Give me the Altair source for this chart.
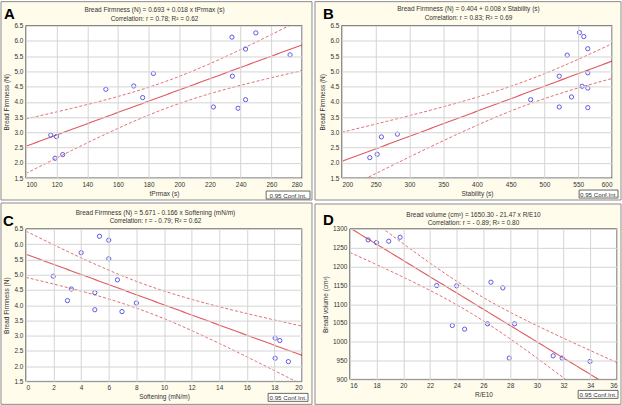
import altair as alt
import numpy as np
import pandas as pd

# ---------------- data ----------------
tprmax_A = [116.2, 119.9, 119.0, 124.0, 152.1, 170.3, 176.1, 183.1, 222.2, 234.3, 234.6, 238.3, 243.2, 243.2, 249.9, 272.2]
firm_A = [2.91, 2.86, 2.15, 2.27, 4.41, 4.52, 4.14, 4.93, 3.83, 6.12, 4.84, 3.79, 5.73, 4.07, 6.26, 5.54]

stability_B = [241.3, 252.2, 258.5, 282.2, 479.5, 521.8, 521.8, 533.6, 540.0, 551.8, 558.2, 555.7, 564.1, 564.1, 564.1, 564.1]
firm_B = [2.17, 2.28, 2.85, 2.94, 4.07, 3.83, 4.84, 5.53, 4.16, 6.27, 6.14, 4.51, 5.74, 4.95, 4.45, 3.81]

softening_C = [1.98, 3.01, 3.29, 4.0, 4.99, 4.99, 5.33, 6.0, 6.0, 6.63, 6.96, 8.0, 18.05, 18.39, 18.05, 19.01]
firm_C = [4.95, 4.15, 4.53, 5.72, 3.85, 4.41, 6.26, 6.13, 5.52, 4.83, 3.79, 4.07, 2.92, 2.84, 2.26, 2.15]

re10_D = [17.37, 17.99, 18.91, 19.76, 22.5, 23.99, 23.67, 24.59, 26.31, 26.56, 27.45, 28.33, 27.93, 31.22, 31.89, 33.98]
volume_D = [1270.8, 1263.7, 1267.3, 1277.9, 1149.6, 1148.7, 1043.4, 1033.6, 1047.8, 1158.4, 1143.4, 1047.8, 956.6, 962.8, 956.6, 947.8]

ticks_x_A = [100, 120, 140, 160, 180, 200, 220, 240, 260, 280]
ticks_x_B = [200, 250, 300, 350, 400, 450, 500, 550, 600]
ticks_x_C = [0, 2, 4, 6, 8, 10, 12, 14, 16, 18, 20]
ticks_x_D = [16, 18, 20, 22, 24, 26, 28, 30, 32, 34, 36]
ticks_y_firm = [1.5, 2.0, 2.5, 3.0, 3.5, 4.0, 4.5, 5.0, 5.5, 6.0, 6.5]
ticks_y_vol = [900, 950, 1000, 1050, 1100, 1150, 1200, 1250, 1300]

titles_A = ["Bread Firmness (N)  = 0.693 + 0.018 x tPrmax (s)", "Correlation: r = 0.78; R² = 0.62"]
titles_B = ["Bread Firmness (N) = 0.404 + 0.008 x Stability (s)", "Correlation: r = 0.83; R² = 0.69"]
titles_C = ["Bread Firmness (N) = 5.671 - 0.166  x Softening (mN/m)", "Correlation: r = - 0.79; R² = 0.62"]
titles_D = ["Bread volume (cm³) = 1650.30 - 21.47  x R/E10", "Correlation: r = - 0.89; R² = 0.80"]

FONT = "Liberation Sans"
PT_COLOR = "#5a5ae0"
LINE_COLOR = "#e05a60"
GRID_COLOR = "#d4d4d4"
T_975_DF14 = 2.145


def fit_band(xs, ys, x0, x1):
    x = np.asarray(xs, float)
    y = np.asarray(ys, float)
    n = len(x)
    b, a = np.polyfit(x, y, 1)
    s = np.sqrt(np.sum((y - (a + b * x)) ** 2) / (n - 2))
    sxx = np.sum((x - x.mean()) ** 2)
    gx = np.linspace(x0, x1, 80)
    yh = a + b * gx
    se = s * np.sqrt(1.0 / n + (gx - x.mean()) ** 2 / sxx)
    return pd.DataFrame({"x": gx, "y": yh, "lo": yh - T_975_DF14 * se, "hi": yh + T_975_DF14 * se})


def one():
    return pd.DataFrame({"k": [0]})


def panel(xs, ys, xdom, ydom, xticks, yticks, xtitle, ytitle, titles, letter,
          w, h, bg, letter_pos, tcx, ty1, ty2, box, yfmt, ytpad, x0=0, cellw=None):
    cellw = cellw or w
    x1 = x0 + w
    xsc = alt.Scale(domain=xdom, nice=False, zero=False, range=[x0, x1])
    ysc = alt.Scale(domain=ydom, nice=False, zero=False)
    xax = alt.Axis(values=xticks, title=xtitle, format="d", zindex=2, grid=True,
                   gridColor=GRID_COLOR, gridWidth=1,
                   labelPadding=3, titlePadding=3, labelOverlap=False, titleX=(x0 + x1) / 2)
    yax = alt.Axis(values=yticks, title=ytitle, format=yfmt, zindex=2, grid=True,
                   gridColor=GRID_COLOR, gridWidth=1,
                   labelPadding=3, titlePadding=ytpad, labelOverlap=False, offset=-x0)
    pts = pd.DataFrame({"x": xs, "y": ys})
    band = fit_band(xs, ys, xdom[0], xdom[1])

    bgl = alt.Chart(one()).mark_rect(fill="#fffcec", stroke="#8c8c8c", strokeWidth=1).encode(
        x=alt.value(bg[0]), x2=alt.value(bg[1]), y=alt.value(bg[2]), y2=alt.value(bg[3]))
    white = alt.Chart(one()).mark_rect(fill="white").encode(
        x=alt.value(x0), x2=alt.value(x1), y=alt.value(0), y2=alt.value(h))
    hi = alt.Chart(band).mark_line(color=LINE_COLOR, strokeWidth=0.9, strokeDash=[3, 2], clip=True).encode(
        x=alt.X("x:Q", scale=xsc, axis=xax), y=alt.Y("hi:Q", scale=ysc, axis=yax))
    lo = alt.Chart(band).mark_line(color=LINE_COLOR, strokeWidth=0.9, strokeDash=[3, 2], clip=True).encode(
        x=alt.X("x:Q", scale=xsc, axis=xax), y=alt.Y("lo:Q", scale=ysc, axis=yax))
    fl = alt.Chart(band).mark_line(color=LINE_COLOR, strokeWidth=1.1, clip=True).encode(
        x=alt.X("x:Q", scale=xsc, axis=xax), y=alt.Y("y:Q", scale=ysc, axis=yax))
    pl = alt.Chart(pts).mark_point(shape="circle", filled=False, size=18, color=PT_COLOR, strokeWidth=1,
                                   opacity=1).encode(
        x=alt.X("x:Q", scale=xsc, axis=xax), y=alt.Y("y:Q", scale=ysc, axis=yax))
    frame = alt.Chart(one()).mark_rect(fillOpacity=0, stroke="#3c3c3c", strokeWidth=1).encode(
        x=alt.value(x0), x2=alt.value(x1), y=alt.value(0), y2=alt.value(h))
    t1 = alt.Chart(one()).mark_text(text=titles[0], font=FONT, fontSize=6.5, color="#333",
                                    align="center", baseline="middle").encode(
        x=alt.value(tcx), y=alt.value(ty1))
    t2 = alt.Chart(one()).mark_text(text=titles[1], font=FONT, fontSize=6.5, color="#333",
                                    align="center", baseline="middle").encode(
        x=alt.value(tcx), y=alt.value(ty2))
    lt = alt.Chart(one()).mark_text(text=letter, font=FONT, fontSize=15, fontWeight="bold",
                                    color="black", align="left", baseline="alphabetic").encode(
        x=alt.value(letter_pos[0]), y=alt.value(letter_pos[1]))
    boxr = alt.Chart(one()).mark_rect(fill="white", stroke="#444", strokeWidth=0.8).encode(
        x=alt.value(box[0]), x2=alt.value(box[1]), y=alt.value(box[2]), y2=alt.value(box[3]))
    boxt = alt.Chart(one()).mark_text(text="0.95 Conf.Int.", font=FONT, fontSize=6.2, color="#333",
                                      align="center", baseline="middle").encode(
        x=alt.value((box[0] + box[1]) / 2), y=alt.value((box[2] + box[3]) / 2 + 0.5))
    return alt.layer(bgl, white, hi, lo, fl, pl, frame, t1, t2, lt, boxr, boxt).properties(
        width=cellw, height=h)


pA = panel(tprmax_A, firm_A, [100, 280], [1.5, 6.5], ticks_x_A, ticks_y_firm, "tPrmax (s)",
           "Bread Firmness (N)", titles_A, "A", 277, 153, (-25, 287, -24, 175), (-22, -7),
           129, -16, -7, (241, 285, 166, 174), ".1f", 4)
pB = panel(stability_B, firm_B, [200, 600], [1.5, 6.5], ticks_x_B, ticks_y_firm, "Stability (s)",
           "Bread Firmness (N)", titles_B, "B", 271, 153, (-27, 280, -24, 175), (-19, -7),
           127, -17, -8, (238, 277, 165, 173), ".1f", 4)
pC = panel(softening_C, firm_C, [0, 20], [1.5, 6.5], ticks_x_C, ticks_y_firm, "Softening (mN/m)",
           "Bread Firmness (N)", titles_C, "C", 277, 153, (-25, 287, -26, 176), (-23, -3),
           130, -16, -8, (243, 283, 165, 173), ".1f", 4)
pD = panel(re10_D, volume_D, [16, 36], [900, 1300], ticks_x_D, ticks_y_vol, "R/E10",
           "Bread volume (cm³)", titles_D, "D", 268, 151, (-27, 280, -25, 176), (-19, -4),
           132, -14, -6, (237, 277, 162, 170), "d", 4, x0=8, cellw=276)

chart = alt.concat(pA, pB, pC, pD, columns=2, spacing={"row": 51, "column": 40},
                   bounds="flush").properties(
    padding=0, background="white"
).configure_view(stroke=None).configure_axis(
    domain=False, ticks=False, labelOverlap=False, labelBound=False,
    labelFont=FONT, labelFontSize=6.5, labelColor="#333",
    titleFont=FONT, titleFontSize=6.5, titleColor="#333", titleFontWeight="normal"
)

chart.save("out.html", embed_options={"renderer": "svg", "actions": False})
